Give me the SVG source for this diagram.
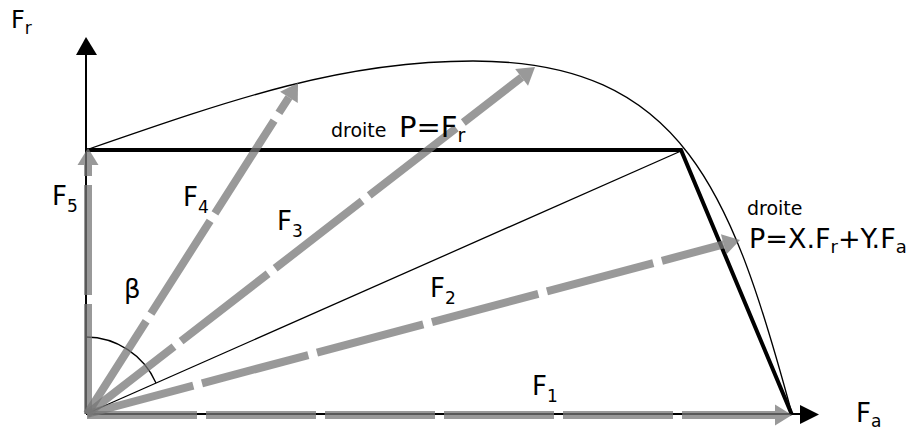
<svg xmlns="http://www.w3.org/2000/svg" width="919" height="430" viewBox="0 0 919 430">
<style>
text{font-family:"DejaVu Sans","Liberation Sans",sans-serif;fill:#000}
.lab{font-size:26px}
.sub{font-size:17px}
.vec{fill:none;stroke:#777;stroke-opacity:0.75;stroke-width:8;stroke-dasharray:110 9;stroke-linecap:butt}
.thin{fill:none;stroke:#000;stroke-width:1.3}
.thick{fill:none;stroke:#000;stroke-width:4}
.axis{fill:none;stroke:#000;stroke-width:2}
</style>
<defs>
<marker id="gh" markerUnits="userSpaceOnUse" viewBox="0 -11 17 22" refX="0" refY="0" markerWidth="17" markerHeight="22" orient="auto" overflow="visible">
<path d="M0,-10.5 L17,0 L0,10.5 Z" fill="#777" fill-opacity="0.75"/>
</marker>
</defs>
<rect width="919" height="430" fill="#fff"/>
<g id="axes">
<line class="axis" x1="86" y1="414" x2="86" y2="55"/>
<path d="M76,55 L86,37 L97,55 Z" fill="#000"/>
<line class="axis" x1="86" y1="414" x2="800" y2="414"/>
<path d="M800,405 L819,414.5 L800,424 Z" fill="#000"/>
</g>
<g id="curve">
<path class="thin" d="M86,150 C236,98 343,61 473,61 C683,61 732,192 792,414"/>
</g>
<g id="droites">
<line class="thin" x1="86" y1="414" x2="681" y2="151"/>
<path class="thick" d="M86,150 L681,150 L792,415"/>
<path class="thin" d="M86,337 A77,77 0 0 1 156,383"/>
</g>
<g id="connectors">
<line class="vec" x1="87" y1="415" x2="775" y2="415" marker-end="url(#gh)"/>
<line class="vec" x1="87" y1="414" x2="723.6" y2="244.4" marker-end="url(#gh)"/>
<line class="vec" x1="87" y1="414" x2="521.6" y2="77.4" marker-end="url(#gh)"/>
<line class="vec" x1="87" y1="414" x2="288.9" y2="97.3" marker-end="url(#gh)"/>
<line class="vec" x1="88" y1="414" x2="88" y2="165" marker-end="url(#gh)"/>
</g>
<g id="labels">
<text x="11" y="28" font-size="24">F<tspan class="sub" dy="6" font-size="16">r</tspan></text>
<text class="lab" x="856" y="422">F<tspan class="sub" dy="5">a</tspan></text>
<text class="lab" x="52" y="205">F<tspan class="sub" dy="7">5</tspan></text>
<text class="lab" x="183" y="206">F<tspan class="sub" dy="7">4</tspan></text>
<text class="lab" x="277" y="230">F<tspan class="sub" dy="7">3</tspan></text>
<text class="lab" x="430" y="297">F<tspan class="sub" dy="7">2</tspan></text>
<text class="lab" x="532" y="395">F<tspan class="sub" dy="7">1</tspan></text>
<text class="lab" x="124" y="298">β</text>
<text x="331" y="137" font-size="19">droite</text>
<text x="399" y="137" font-size="29">P=F<tspan dy="5" font-size="19">r</tspan></text>
<text x="747" y="215" font-size="19">droite</text>
<text x="749" y="248" font-size="27">P=X.F<tspan dy="5" font-size="18">r</tspan><tspan dy="-5">+Y.F</tspan><tspan dy="5" font-size="18">a</tspan></text>
</g>
</svg>
